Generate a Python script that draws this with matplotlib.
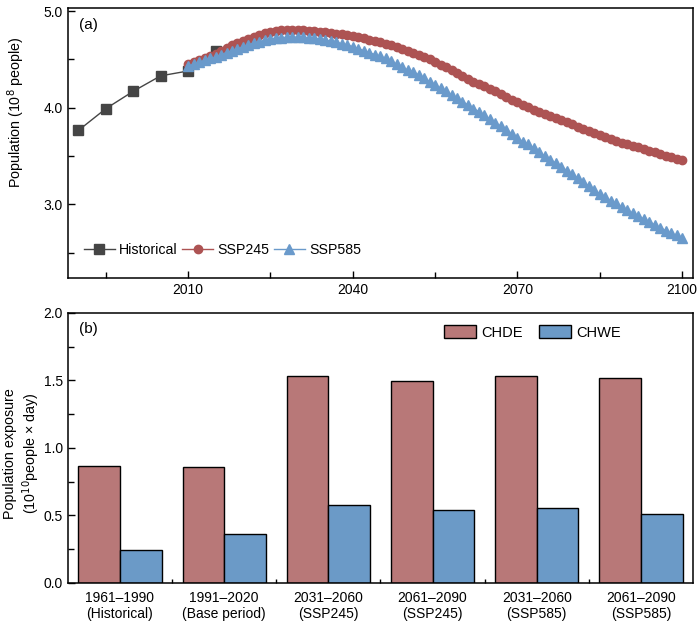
import numpy as np
import matplotlib.pyplot as plt
from matplotlib.ticker import MultipleLocator, FixedLocator, FormatStrFormatter

plt.rcParams['font.family'] = ['Liberation Sans', 'DejaVu Sans']
plt.rcParams['font.size'] = 10

# (a) 人口
hist_years = [1990, 1995, 2000, 2005, 2010, 2015]
hist_pop = [3.765, 3.99, 4.17, 4.33, 4.38, 4.59]

ssp_years = list(range(2010, 2101))
ssp245 = [4.45, 4.47, 4.49, 4.51, 4.53, 4.56, 4.59, 4.62, 4.65, 4.67,
          4.69, 4.71, 4.73, 4.75, 4.77, 4.78, 4.79, 4.80, 4.80, 4.80,
          4.80, 4.80, 4.79, 4.79, 4.78, 4.78, 4.77, 4.76, 4.76, 4.75,
          4.74, 4.73, 4.72, 4.70, 4.69, 4.68, 4.66, 4.65, 4.63, 4.61,
          4.59, 4.57, 4.55, 4.52, 4.50, 4.47, 4.44, 4.42, 4.39, 4.36,
          4.33, 4.30, 4.27, 4.25, 4.22, 4.19, 4.17, 4.14, 4.11, 4.08,
          4.06, 4.03, 4.01, 3.98, 3.96, 3.94, 3.91, 3.89, 3.87, 3.85,
          3.83, 3.80, 3.78, 3.76, 3.74, 3.72, 3.70, 3.68, 3.66, 3.64,
          3.62, 3.60, 3.59, 3.57, 3.55, 3.54, 3.52, 3.50, 3.49, 3.47,
          3.46]
ssp585 = [4.43, 4.45, 4.47, 4.49, 4.51, 4.52, 4.55, 4.57, 4.59, 4.61,
          4.63, 4.65, 4.67, 4.68, 4.70, 4.71, 4.72, 4.72, 4.73, 4.73,
          4.73, 4.73, 4.72, 4.72, 4.71, 4.70, 4.69, 4.68, 4.66, 4.65,
          4.63, 4.61, 4.59, 4.57, 4.55, 4.53, 4.51, 4.48, 4.45, 4.42,
          4.39, 4.37, 4.34, 4.31, 4.27, 4.24, 4.20, 4.17, 4.13, 4.10,
          4.06, 4.03, 3.99, 3.96, 3.92, 3.88, 3.84, 3.81, 3.77, 3.73,
          3.69, 3.65, 3.62, 3.58, 3.54, 3.50, 3.46, 3.43, 3.39, 3.35,
          3.31, 3.27, 3.23, 3.19, 3.15, 3.11, 3.08, 3.04, 3.01, 2.97,
          2.94, 2.91, 2.88, 2.85, 2.82, 2.79, 2.76, 2.73, 2.70, 2.68,
          2.65]

# (b) 暴露度
periods = ['1961–1990\n(Historical)', '1991–2020\n(Base period)',
           '2031–2060\n(SSP245)', '2061–2090\n(SSP245)',
           '2031–2060\n(SSP585)', '2061–2090\n(SSP585)']
chde = [0.869, 0.857, 1.533, 1.496, 1.536, 1.516]
chwe = [0.244, 0.361, 0.575, 0.541, 0.553, 0.513]

c_hist = '#454545'
c_245 = '#AD5353'
c_585 = '#6A9ACB'
c_chde = '#B87878'
c_chwe = '#6B9AC7'

fig = plt.figure(figsize=(7, 6.26), dpi=100)
ax1 = fig.add_axes([0.097, 0.556, 0.893, 0.431])
ax2 = fig.add_axes([0.097, 0.069, 0.893, 0.431])

ax1.plot(hist_years, hist_pop, '-s', color=c_hist, ms=6.5, lw=1, label='Historical', zorder=2)
ax1.plot(ssp_years, ssp245, '-o', color=c_245, ms=6, lw=1, label='SSP245', zorder=3)
ax1.plot(ssp_years, ssp585, '-^', color=c_585, ms=6.5, lw=1, label='SSP585', zorder=4)

ax1.set_xlim(1988.1, 2102.0)
ax1.set_ylim(2.24, 5.03)
ax1.xaxis.set_major_locator(FixedLocator([2010, 2040, 2070, 2100]))
ax1.xaxis.set_minor_locator(FixedLocator([1995, 2025, 2055, 2085]))
ax1.yaxis.set_major_locator(MultipleLocator(1.0))
ax1.yaxis.set_minor_locator(MultipleLocator(0.5))
ax1.yaxis.set_major_formatter(FormatStrFormatter('%.1f'))
ax1.set_ylabel('Population (10$^8$ people)', fontsize=10.3)
ax1.yaxis.set_label_coords(-0.066, 0.615)
ax1.text(0.018, 0.965, '(a)', transform=ax1.transAxes, va='top', ha='left', fontsize=11)

ax1.legend(loc='lower left', ncol=3, frameon=False, bbox_to_anchor=(0.005, 0.03),
           handlelength=2.2, handletextpad=0.3, columnspacing=0.3,
           fontsize=10.2)

x = np.arange(len(periods))
w = 0.4
ax2.bar(x - w / 2, chde, w, color=c_chde, edgecolor='black', lw=1, label='CHDE')
ax2.bar(x + w / 2, chwe, w, color=c_chwe, edgecolor='black', lw=1, label='CHWE')
ax2.set_xlim(-0.5, 5.5)
ax2.set_ylim(0, 2.0)
ax2.set_xticks(x)
ax2.set_xticklabels(periods)
ax2.xaxis.set_minor_locator(FixedLocator(x[:-1] + 0.5))
ax2.yaxis.set_major_locator(MultipleLocator(0.5))
ax2.yaxis.set_minor_locator(MultipleLocator(0.25))
ax2.yaxis.set_major_formatter(FormatStrFormatter('%.1f'))
ax2.set_ylabel('Population exposure\n(10$^{10}$people × day)', fontsize=10.3,
               linespacing=1.2)
ax2.yaxis.set_label_coords(-0.042, 0.48)
ax2.text(0.018, 0.965, '(b)', transform=ax2.transAxes, va='top', ha='left', fontsize=11)
ax2.legend(loc='upper right', ncol=2, frameon=False, bbox_to_anchor=(0.905, 1.005),
           handlelength=2.2, handleheight=1.05, handletextpad=0.35,
           columnspacing=1.1, fontsize=10.5)

for ax in (ax1, ax2):
    for s in ax.spines.values():
        s.set_linewidth(1.1)
    ax.tick_params(which='both', direction='in', width=1, labelsize=10)
    ax.tick_params(which='major', length=5)
    ax.tick_params(which='minor', length=4)
ax2.tick_params(axis='x', which='major', length=0, pad=6)
ax2.tick_params(axis='x', which='minor', length=3)

fig.savefig('out.png', dpi=100)
